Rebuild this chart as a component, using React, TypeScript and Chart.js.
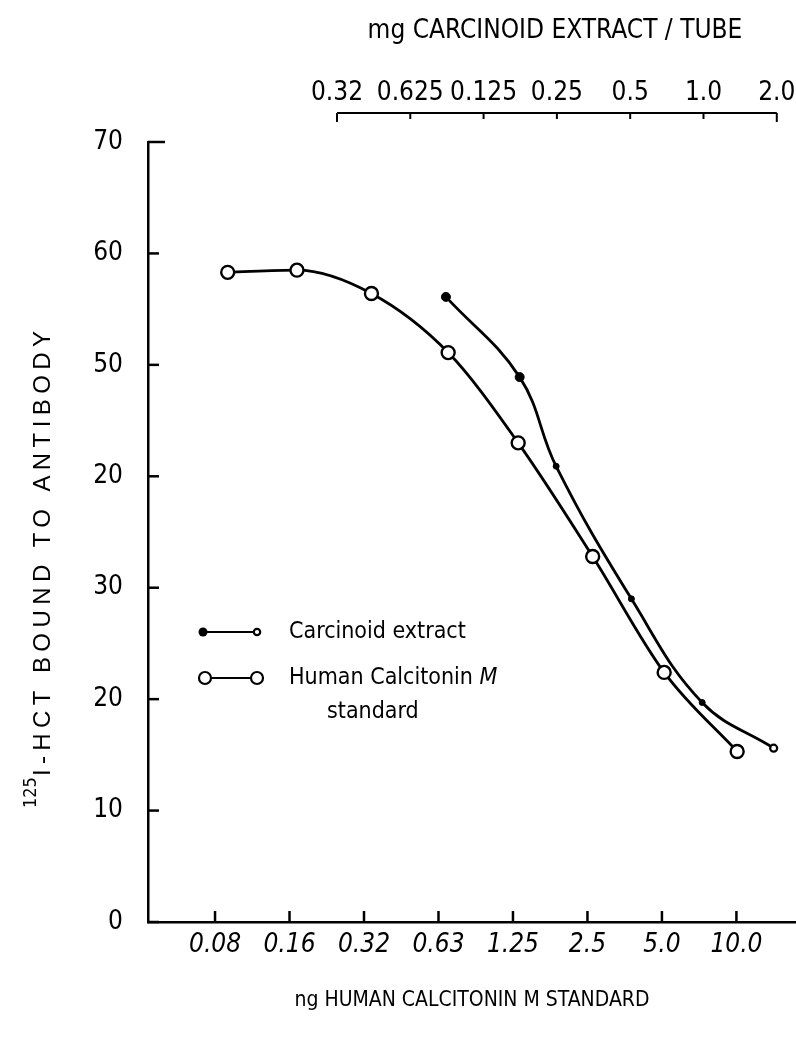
import React, { useEffect, useRef } from "react";
import { Chart, registerables } from "chart.js";

Chart.register(...registerables);

// ---- data ----
const bottomTickLabels = ["0.08", "0.16", "0.32", "0.63", "1.25", "2.5", "5.0", "10.0"];
const topTickLabels = ["0.32", "0.625", "0.125", "0.25", "0.5", "1.0", "2.0"];
const yTickLabels = ["0", "10", "20", "30", "20", "50", "60", "70"];

// human calcitonin standard (open circles), x in bottom-axis step units
const humanX = [0.17, 1.1, 2.1, 3.13, 4.07, 5.07, 6.03, 7.01];
const humanY = [58.3, 58.5, 56.4, 51.1, 43.0, 32.8, 22.4, 15.3];

// carcinoid extract (dots)
const carcX = [3.1, 4.09, 4.58, 5.59, 6.54, 7.5];
const carcY = [56.1, 48.9, 40.9, 29.0, 19.7, 15.6];

const topTitle = "mg CARCINOID EXTRACT / TUBE";
const bottomTitle = "ng HUMAN CALCITONIN M STANDARD";
const yTitleSup = "125";
const yTitleMain = "I-HCT BOUND TO ANTIBODY";
const legendCarc = "Carcinoid extract";
const legendHuman1 = "Human Calcitonin ";
const legendHumanM = "M";
const legendHuman2 = "standard";

const FONT = "'Liberation Sans Narrow', 'DejaVu Sans Condensed', 'Liberation Sans', sans-serif";
const FONT_WIDE = "'Liberation Sans', 'DejaVu Sans', sans-serif";

const noPad = (s: any) => {
  s.paddingLeft = 0;
  s.paddingRight = 0;
  s.paddingTop = 0;
  s.paddingBottom = 0;
};

const annot = {
  id: "annot",
  afterDraw(chart: any) {
    const { ctx, chartArea: ca, scales } = chart;
    const x = scales.x, y = scales.y, x2 = scales.x2;
    const line = (a: number, b: number, c: number, d: number) => {
      ctx.beginPath();
      ctx.moveTo(a, b);
      ctx.lineTo(c, d);
      ctx.stroke();
    };
    ctx.save();
    ctx.strokeStyle = "#000";
    ctx.fillStyle = "#000";
    ctx.lineWidth = 2.5;
    // inward ticks bottom
    x.ticks.forEach((t: any) => {
      const px = x.getPixelForValue(t.value);
      line(px, ca.bottom, px, ca.bottom - 11);
    });
    // inward ticks left
    y.ticks.forEach((t: any, i: number) => {
      const py = y.getPixelForValue(t.value);
      const len = i === y.ticks.length - 1 ? 17 : 11;
      line(ca.left, py, ca.left + len, py);
    });
    // top axis
    const topY = x2.bottom - 29;
    const n = x2.ticks.length;
    const x0 = x2.getPixelForValue(x2.ticks[0].value);
    const x1 = x2.getPixelForValue(x2.ticks[n - 1].value);
    ctx.lineWidth = 2;
    line(x0, topY, x1, topY);
    x2.ticks.forEach((t: any, i: number) => {
      const px = x2.getPixelForValue(t.value);
      const len = i === 0 || i === n - 1 ? 9 : 6;
      line(px, topY, px, topY + len);
    });
    // top title
    ctx.font = "26px " + FONT;
    ctx.textAlign = "center";
    ctx.textBaseline = "middle";
    ctx.fillText(topTitle, 555, 31);

    // y title (rotated, with superscript)
    ctx.save();
    ctx.translate(50, 808);
    ctx.rotate(-Math.PI / 2);
    ctx.textAlign = "left";
    ctx.textBaseline = "alphabetic";
    ctx.font = "18px " + FONT;
    const supW = ctx.measureText(yTitleSup).width;
    ctx.fillText(yTitleSup, 0, -14);
    ctx.font = "24px " + FONT_WIDE;
    (ctx as any).letterSpacing = "0px";
    const w0 = ctx.measureText(yTitleMain).width;
    const target = 445;
    const sp = Math.max(0, (target - w0) / (yTitleMain.length - 1));
    (ctx as any).letterSpacing = sp.toFixed(2) + "px";
    ctx.fillText(yTitleMain, supW + 1, 0);
    ctx.restore();
    (ctx as any).letterSpacing = "0px";

    // legend
    ctx.lineWidth = 2.2;
    const r1 = 632, r2 = 678;
    line(203, r1, 256, r1);
    ctx.beginPath(); ctx.arc(203, r1, 4.5, 0, Math.PI * 2); ctx.fill();
    ctx.beginPath(); ctx.arc(257, r1, 3.2, 0, Math.PI * 2);
    ctx.fillStyle = "#fff"; ctx.fill(); ctx.stroke(); ctx.fillStyle = "#000";
    line(205, r2, 257, r2);
    [205, 257].forEach((cx) => {
      ctx.beginPath(); ctx.arc(cx, r2, 6, 0, Math.PI * 2);
      ctx.fillStyle = "#fff"; ctx.fill(); ctx.stroke(); ctx.fillStyle = "#000";
    });
    ctx.font = "23px " + FONT;
    ctx.textAlign = "left";
    ctx.textBaseline = "middle";
    ctx.fillText(legendCarc, 289, r1);
    ctx.fillText(legendHuman1, 289, r2);
    const hw = ctx.measureText(legendHuman1).width;
    ctx.font = "italic 23px " + FONT;
    ctx.fillText(legendHumanM, 289 + hw, r2);
    ctx.font = "23px " + FONT;
    ctx.fillText(legendHuman2, 327, r2 + 34);
    ctx.restore();
  },
};

export default function App() {
  const ref = useRef<HTMLCanvasElement | null>(null);
  useEffect(() => {
    if (!ref.current) return;
    const tickFont = { family: FONT, size: 26 };
    const chart = new Chart(ref.current, {
      type: "line",
      data: {
        datasets: [
          {
            label: "Human Calcitonin M standard",
            data: humanX.map((v, i) => ({ x: v, y: humanY[i] })),
            borderColor: "#000",
            borderWidth: 2.8,
            cubicInterpolationMode: "monotone",
            pointRadius: 6.5,
            pointBorderWidth: 2.4,
            pointBackgroundColor: "#fff",
            pointBorderColor: "#000",
            fill: false,
          },
          {
            label: "Carcinoid extract",
            data: carcX.map((v, i) => ({ x: v, y: carcY[i] })),
            borderColor: "#000",
            borderWidth: 2.8,
            tension: 0.4,
            pointRadius: [4.5, 4.5, 3, 3, 3, 3.5],
            pointBorderWidth: [1, 1, 1, 1, 1, 2.2],
            pointBackgroundColor: ["#000", "#000", "#000", "#000", "#000", "#fff"],
            pointBorderColor: "#000",
            fill: false,
          },
        ],
      },
      options: {
        animation: false,
        responsive: false,
        devicePixelRatio: 1,
        layout: { autoPadding: false, padding: { left: 48, right: 0, top: 0, bottom: 0 } },
        plugins: { legend: { display: false }, tooltip: { enabled: false } },
        scales: {
          x: {
            type: "linear",
            position: "bottom",
            min: -0.9,
            max: 7.8,
            afterBuildTicks: (s: any) => {
              s.ticks = bottomTickLabels.map((_, i) => ({ value: i }));
            },
            afterFit: (s: any) => {
              s.height = 128;
              noPad(s);
            },
            ticks: {
              callback: (v: any) => bottomTickLabels[Math.round(v)],
              font: { family: FONT, size: 26, style: "italic" },
              color: "#000",
              padding: 8,
              maxRotation: 0,
              autoSkip: false,
            },
            grid: { display: false, drawTicks: false },
            border: { display: true, color: "#000", width: 2.5 },
            title: {
              display: true,
              text: bottomTitle,
              font: { family: FONT, size: 21 },
              color: "#000",
              padding: { top: 0, bottom: 37 },
            },
          },
          x2: {
            type: "linear",
            position: "top",
            min: -2.578,
            max: 6.262,
            afterBuildTicks: (s: any) => {
              s.ticks = topTickLabels.map((_, i) => ({ value: i }));
            },
            afterFit: (s: any) => {
              s.height = 142;
              noPad(s);
            },
            ticks: {
              callback: (v: any) => topTickLabels[Math.round(v)],
              font: tickFont,
              color: "#000",
              padding: 33,
              maxRotation: 0,
              autoSkip: false,
            },
            grid: { display: false, drawTicks: false },
            border: { display: false },
          },
          y: {
            type: "linear",
            min: 0,
            max: 70,
            afterBuildTicks: (s: any) => {
              s.ticks = yTickLabels.map((_, i) => ({ value: i * 10 }));
            },
            afterFit: (s: any) => {
              s.width = 100;
              noPad(s);
            },
            ticks: {
              callback: (v: any) => yTickLabels[Math.round(v / 10)],
              font: tickFont,
              color: "#000",
              padding: 25,
            },
            grid: { display: false, drawTicks: false },
            border: { display: true, color: "#000", width: 2.5 },
          },
        },
      },
      plugins: [annot],
    } as any);
    return () => chart.destroy();
  }, []);
  return (
    <div style={{ position: "absolute", left: 0, top: 0, width: 796, height: 1050, background: "#fff" }}>
      <canvas ref={ref} width={796} height={1050} style={{ display: "block" }} />
    </div>
  );
}
